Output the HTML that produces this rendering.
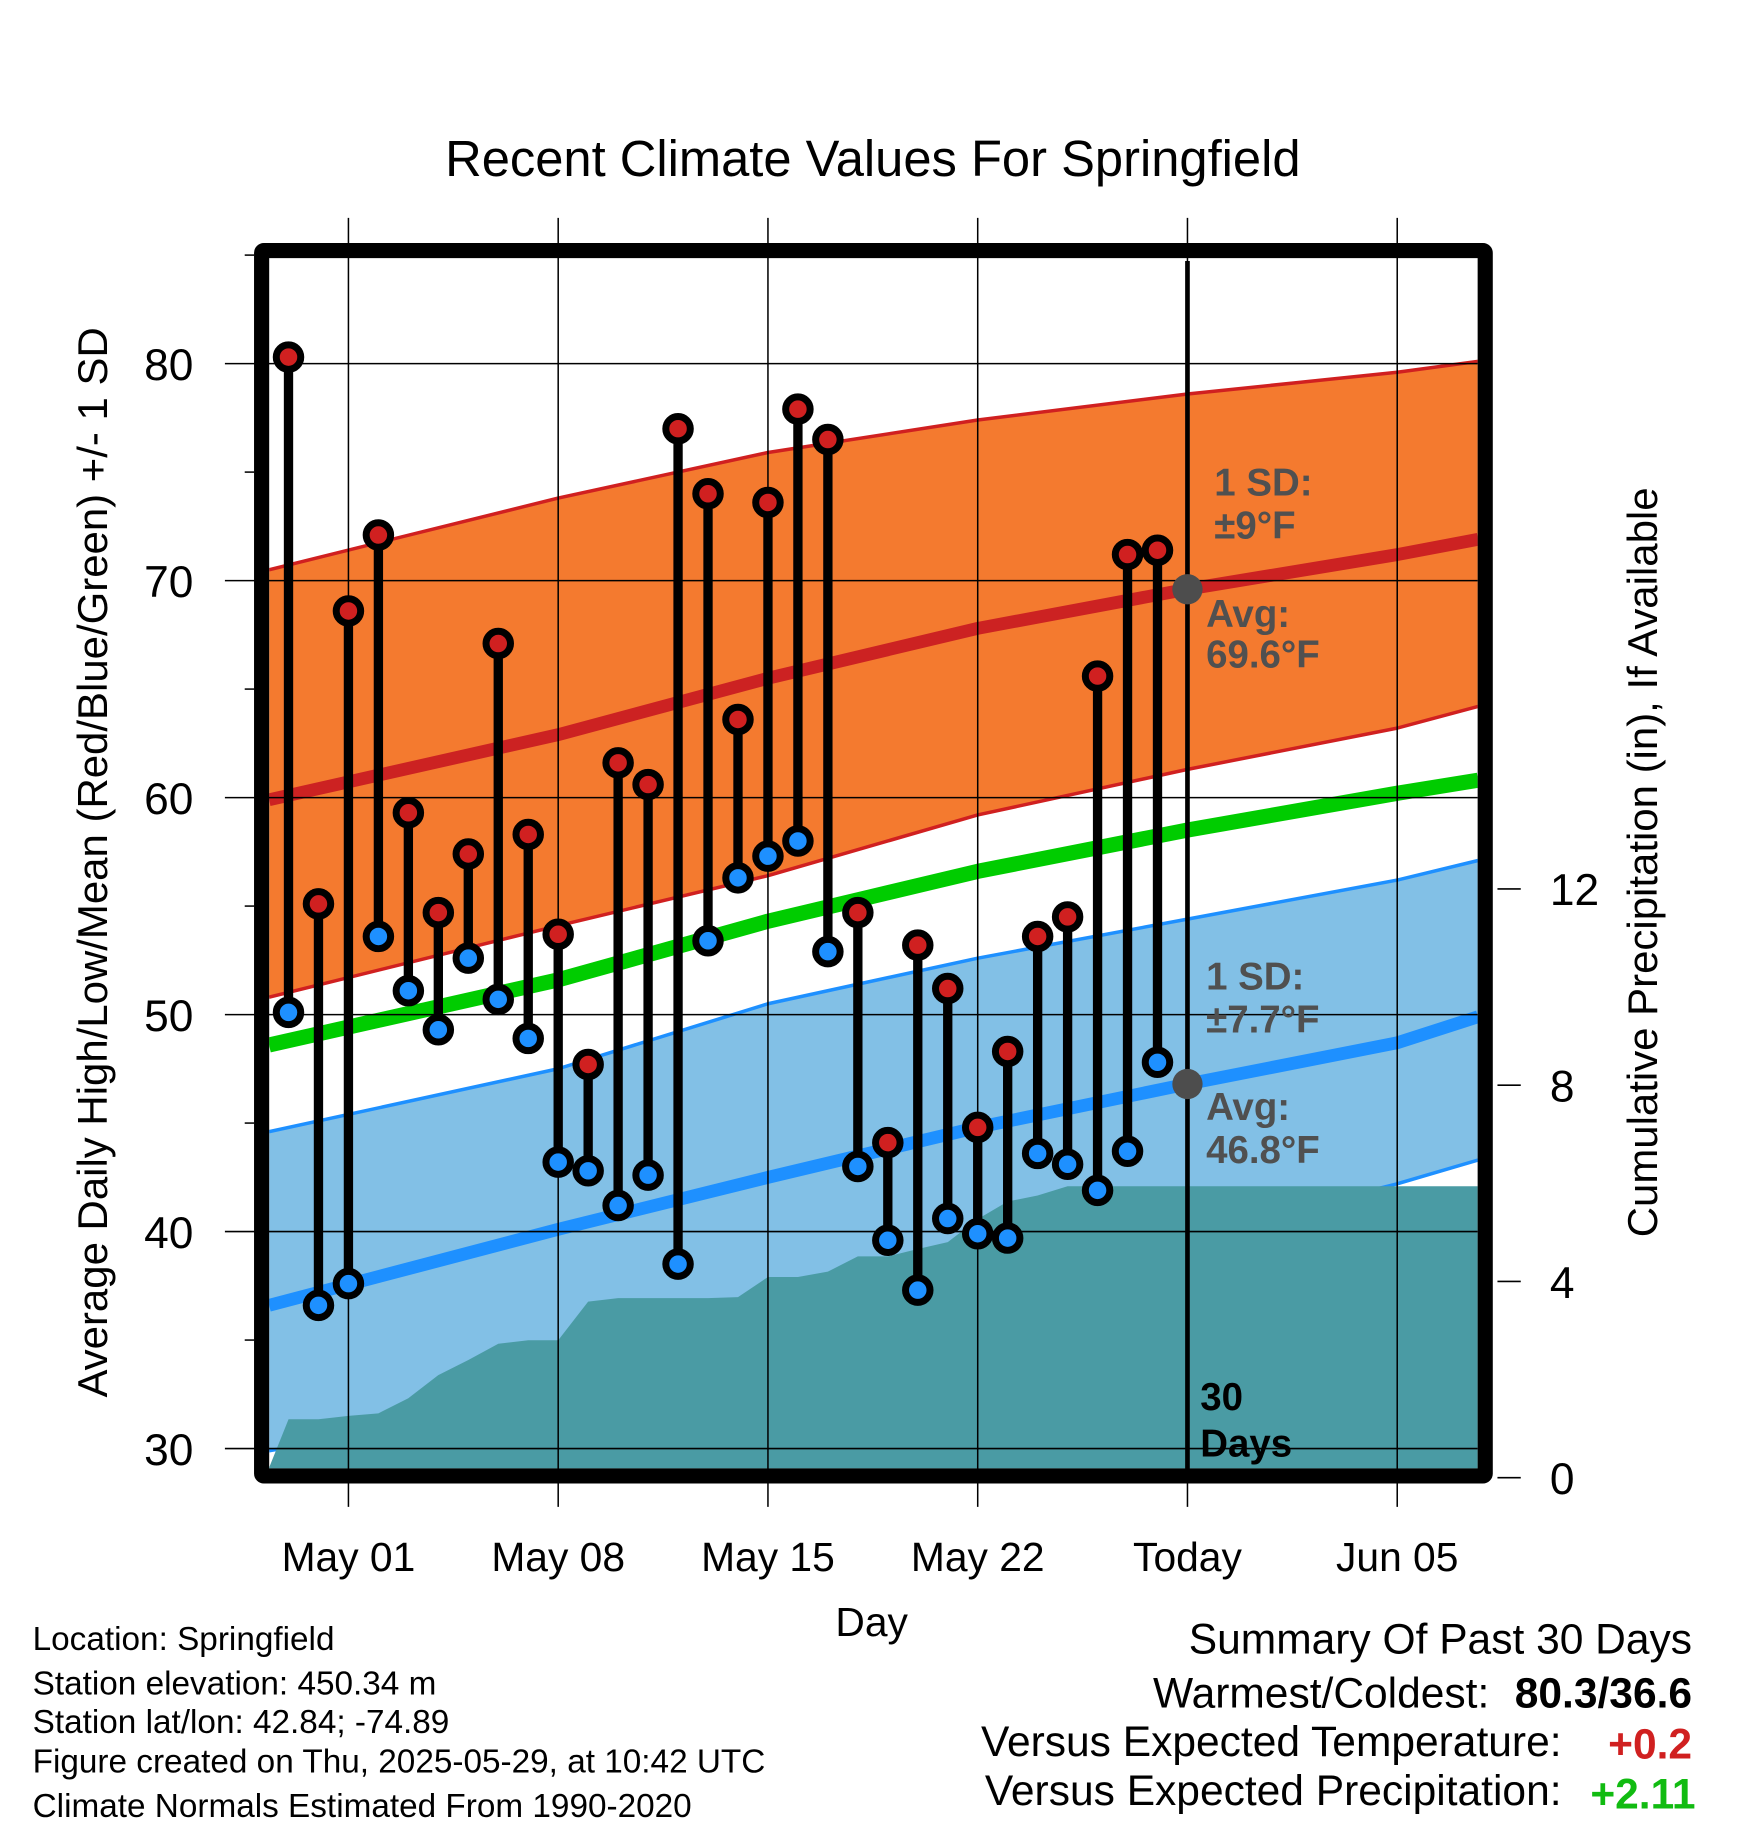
<!DOCTYPE html>
<html><head><meta charset="utf-8">
<style>
html,body{margin:0;padding:0;background:#fff;}
svg{display:block;font-family:"Liberation Sans",sans-serif;}
</style></head>
<body>
<svg id="chart" width="1748" height="1828" viewBox="0 0 1500 1568.6" preserveAspectRatio="none" xmlns="http://www.w3.org/2000/svg">
<defs><clipPath id="plotclip"><rect x="231" y="224" width="1037" height="1036"/></clipPath></defs>
<g id="fills" clip-path="url(#plotclip)"></g>
<g id="grid"></g>
<g id="marks"></g>
<g id="axes"></g>
<text x="749" y="151" font-size="43.5" text-anchor="middle">Recent Climate Values For Springfield</text>
<text transform="translate(92,740) rotate(-90)" font-size="36" text-anchor="middle">Average Daily High/Low/Mean (Red/Blue/Green) +/- 1 SD</text>
<text transform="translate(1422,740) rotate(-90)" font-size="36" text-anchor="middle">Cumulative Precipitation (in), If Available</text>
<text x="748" y="1404" font-size="35" text-anchor="middle">Day</text>
<g font-size="28.6">
<text x="28" y="1416">Location: Springfield</text>
<text x="28" y="1454">Station elevation: 450.34 m</text>
<text x="28" y="1487">Station lat/lon: 42.84; -74.89</text>
<text x="28" y="1521">Figure created on Thu, 2025-05-29, at 10:42 UTC</text>
<text x="28" y="1559">Climate Normals Estimated From 1990-2020</text>
</g>
<g font-size="36.5" text-anchor="end">
<text x="1452" y="1419">Summary Of Past 30 Days</text>
<text x="1278" y="1465">Warmest/Coldest:</text>
<text x="1452" y="1465" font-weight="bold">80.3/36.6</text>
<text x="1340" y="1507">Versus Expected Temperature:</text>
<text x="1452" y="1509" font-weight="bold" fill="#d02020">+0.2</text>
<text x="1340" y="1549">Versus Expected Precipitation:</text>
<text x="1455" y="1552" font-weight="bold" fill="#11bb11">+2.11</text>
</g>
</svg>
<script>
// ---- data ----
const highs = [80.3,55.1,68.6,72.1,59.3,54.7,57.4,67.1,58.3,53.7,47.7,61.6,60.6,77.0,74.0,63.6,73.6,77.9,76.5,54.7,44.1,53.2,51.2,44.8,48.3,53.6,54.5,65.6,71.2,71.4];
const lows  = [50.1,36.6,37.6,53.6,51.1,49.3,52.6,50.7,48.9,43.2,42.8,41.2,42.6,38.5,53.4,56.3,57.3,58.0,52.9,43.0,39.6,37.3,40.6,39.9,39.7,43.6,43.1,41.9,43.7,47.8];
const precip = [1.19,1.19,1.26,1.31,1.62,2.09,2.40,2.73,2.80,2.80,3.59,3.66,3.66,3.66,3.66,3.68,4.09,4.09,4.20,4.51,4.51,4.66,4.80,5.27,5.63,5.75,5.94,5.94,5.94,5.94];
const normDays = [-2.65,7,14,21,28,35,37.7];
const normHigh = [59.9,62.9,65.5,67.8,69.6,71.2,71.9];
const normHighUp = [70.5,73.8,75.9,77.4,78.6,79.6,80.1];
const normHighLo = [50.8,54.1,56.4,59.2,61.3,63.2,64.2];
const normMean = [48.6,51.6,54.3,56.6,58.5,60.2,60.8];
const normLow = [36.6,40.1,42.5,44.8,46.8,48.7,49.9];
const normLowUp = [44.6,47.5,50.5,52.6,54.4,56.2,57.1];
const normLowLo = [29.9,32.3,35.0,37.7,39.8,42.2,43.3];
const yTicks = [30,40,50,60,70,80];
const y2Ticks = [0,4,8,12];
const xTickDays = [0,7,14,21,28,35];
const xTickLabels = ["May 01","May 08","May 15","May 22","Today","Jun 05"];
const firstDay = -2; // Apr 29 relative to May 01
// ---- scales ----
const X = d => 299 + 25.714*d;
const Y = t => 1243 - (t-30)*18.62;
const Y2 = p => 1268 - p*42.1;
const NS="http://www.w3.org/2000/svg";
function mk(tag, attrs, parent){const e=document.createElementNS(NS,tag);for(const k in attrs)e.setAttribute(k,attrs[k]);parent.appendChild(e);return e;}
const fills=document.getElementById('fills'), grid=document.getElementById('grid'), marks=document.getElementById('marks'), axes=document.getElementById('axes');
function linePts(arr){return normDays.map((d,i)=>X(d).toFixed(1)+','+Y(arr[i]).toFixed(1));}
function band(up,lo,fill,name){
  const pts=linePts(up).concat(linePts(lo).reverse());
  const p=mk('polygon',{points:pts.join(' '),fill:fill},fills);
  
  
}
function line(arr,col,w,name){
  const p=mk('polyline',{points:linePts(arr).join(' '),fill:'none',stroke:col,'stroke-width':w,'stroke-linejoin':'round'},fills);
  
  
}
band(normHighUp,normHighLo,'#f47a2f','high-sd-band');
line(normHighUp,'#d02020',3,'high-sd-upper');
line(normHighLo,'#d02020',3,'high-sd-lower');
line(normHigh,'#cc2222',11,'normal-high-line');
band(normLowUp,normLowLo,'#82c0e6','low-sd-band');
line(normLowUp,'#1e90ff',3,'low-sd-upper');
line(normLowLo,'#1e90ff',3,'low-sd-lower');
line(normLow,'#1e90ff',11,'normal-low-line');
line(normMean,'#00cc00',13,'normal-mean-line');
// precip area
{
  let pts=[X(-2.65)+','+1270, X(-2.65)+','+Y2(0.2)];
  precip.forEach((v,i)=>pts.push(X(firstDay+i).toFixed(1)+','+Y2(v).toFixed(1)));
  pts.push(X(37.7)+','+Y2(precip[precip.length-1]).toFixed(1));
  pts.push(X(37.7)+',1270');
  const p=mk('polygon',{points:pts.join(' '),fill:'#4a9ba4'},fills);
  
  
}
// grid
yTicks.forEach(t=>{
  const l=mk('line',{x1:193,x2:1268,y1:Y(t),y2:Y(t),stroke:'#000','stroke-width':1.3},grid);
  
  
  const tx=mk('text',{x:166,y:Y(t)+14,'font-size':38,'text-anchor':'end'},axes);
  tx.textContent=t;
  
  
});
for(let t=35;t<=85;t+=5){ if(t%10) mk('line',{x1:210,x2:218,y1:Y(t),y2:Y(t),stroke:'#000','stroke-width':1.3},grid); }
xTickDays.forEach((d,i)=>{
  const l=mk('line',{x1:X(d),x2:X(d),y1:187,y2:1293,stroke:'#000','stroke-width':1.3},grid);
  
  
  const tx=mk('text',{x:X(d),y:1348,'font-size':35,'text-anchor':'middle'},axes);
  tx.textContent=xTickLabels[i];
  
  
});
y2Ticks.forEach(p=>{
  mk('line',{x1:1285,x2:1305,y1:Y2(p),y2:Y2(p),stroke:'#000','stroke-width':1.3},axes);
  const tx=mk('text',{x:1330,y:Y2(p)+14,'font-size':38},axes);
  tx.textContent=p;
  
  
});
// today line
{const l=mk('line',{x1:X(28),x2:X(28),y1:224,y2:1262,stroke:'#000','stroke-width':4},marks);

}
// stems and markers
highs.forEach((h,i)=>{
  const x=X(firstDay+i);
  const s=mk('line',{x1:x,x2:x,y1:Y(h),y2:Y(lows[i]),stroke:'#000','stroke-width':8},marks);
  
  
});
highs.forEach((h,i)=>{
  const x=X(firstDay+i);
  const a=mk('circle',{cx:x,cy:Y(h),r:10.5,fill:'#d02020',stroke:'#000','stroke-width':6},marks);
  
  
  const b=mk('circle',{cx:x,cy:Y(lows[i]),r:10.5,fill:'#1e90ff',stroke:'#000','stroke-width':6},marks);
  
  
});
// avg dots
[[69.6,'avg-high-dot'],[46.8,'avg-low-dot']].forEach(a=>{
  const c=mk('circle',{cx:X(28),cy:Y(a[0]),r:13,fill:'#4d4d4d'},marks);
  
  
});
// annotations
const ann=[[1042,425,'1 SD:'],[1042,462,'±9°F'],[1035,538,'Avg:'],[1035,573,'69.6°F'],[1035,849,'1 SD:'],[1035,886,'±7.7°F'],[1035,961,'Avg:'],[1035,998,'46.8°F']];
ann.forEach(a=>{
  const t=mk('text',{x:a[0],y:a[1],'font-size':33,'font-weight':'bold',fill:'#505050'},marks);
  t.textContent=a[2];
  
  
});
[[1030,1210,'30'],[1030,1250,'Days']].forEach(a=>{
  const t=mk('text',{x:a[0],y:a[1],'font-size':33,'font-weight':'bold',fill:'#000'},marks);
  t.textContent=a[2];
  
  
});
// frame
{const f=mk('rect',{x:224.5,y:215,width:1050,height:1051.5,fill:'none',stroke:'#000','stroke-width':13,rx:2},axes);

}
</script>
</body></html>
